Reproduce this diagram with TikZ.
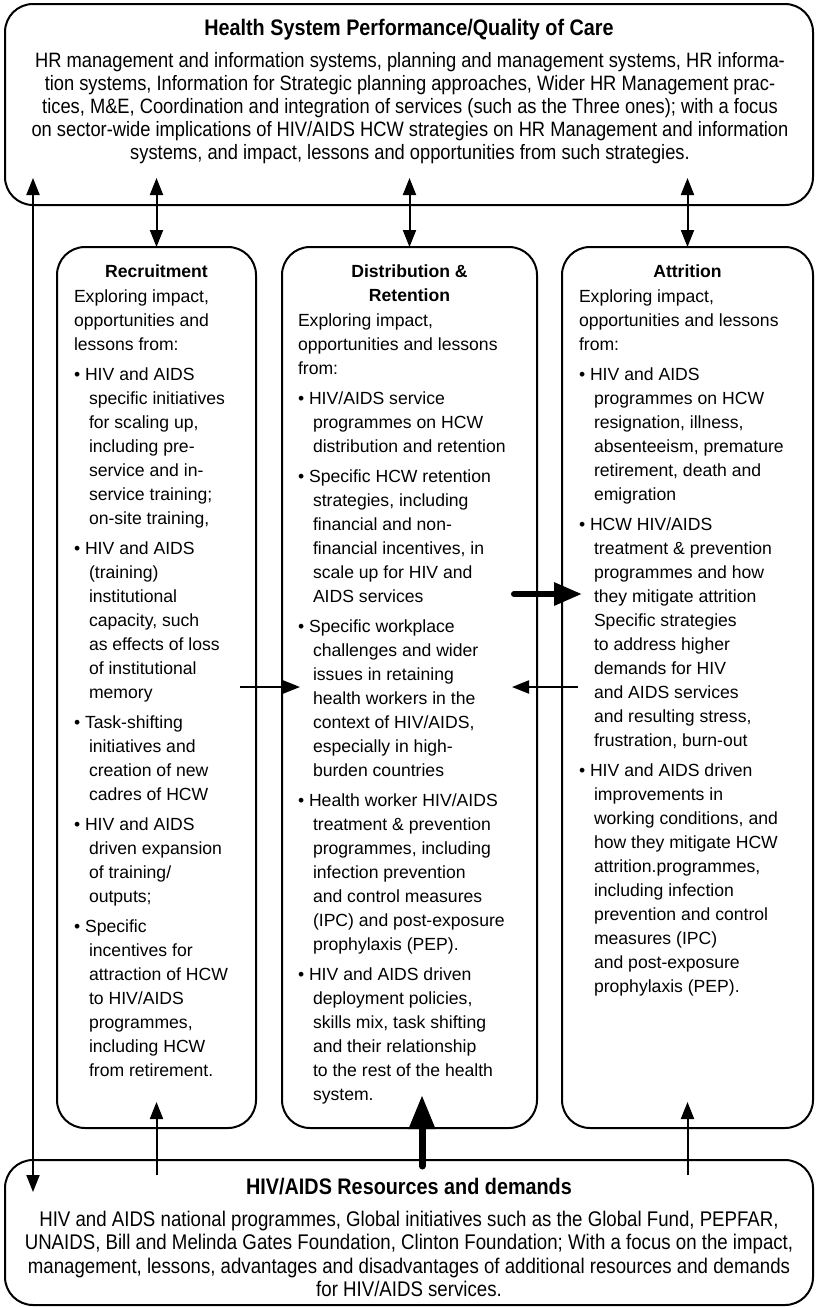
\documentclass[tikz,border=0pt]{standalone}
\usepackage{fontspec}
\setmainfont{Liberation Sans}
\newfontfamily\condfont[FakeStretch=0.88]{Liberation Sans}
\usetikzlibrary{arrows.meta}
\newcommand{\bitem}{\par\hangindent=15pt\hangafter=1\noindent•\ }
\newcommand{\colfont}{\fontsize{17.6}{24}\selectfont}
\newcommand{\coltext}[2]{\begin{minipage}[t]{#1}\colfont\raggedright\setlength{\parskip}{6pt}\setlength{\parindent}{0pt}#2\end{minipage}}
\tikzset{
  box/.style={draw, line width=2pt, rounded corners=28pt, inner sep=0pt, outer sep=0pt, anchor=north west},
  txt/.style={inner sep=0pt, outer sep=0pt},
  conn/.style={line width=2pt, -{Triangle[length=17pt,width=13pt]}},
  dconn/.style={line width=2pt, {Triangle[length=17pt,width=13pt]}-{Triangle[length=17pt,width=13pt]}},
  thickconn/.style={line width=7pt, line cap=round, -{Triangle[length=34pt,width=25pt]}},
  head/.style={txt, font=\fontsize{17.6}{24}\selectfont\bfseries, anchor=base},
}
\begin{document}
\begin{tikzpicture}[x=1pt,y=-1pt]
\useasboundingbox (0,0) rectangle (815,1307);
% boxes
\node[box, minimum width=808pt, minimum height=201pt] (top) at (5,4) {};
\node[box, minimum width=199pt, minimum height=881pt] (rec) at (57,247) {};
\node[box, minimum width=255pt, minimum height=881pt] (dist) at (282,247) {};
\node[box, minimum width=251pt, minimum height=881pt] (att) at (562,247) {};
\node[box, minimum width=808pt, minimum height=145pt] (res) at (5,1160) {};

% top texts
\node[txt, anchor=base, font=\condfont\fontsize{22.5}{23}\selectfont\bfseries] (toptitle) at (409,35) {Health System Performance/Quality of Care};
\node[txt, anchor=base] (topbody) at (410,67) {\begin{minipage}[t]{800pt}\condfont\fontsize{20.8}{23}\selectfont\centering
HR management and information systems, planning and management systems, HR informa-\\
tion systems, Information for Strategic planning approaches, Wider HR Management prac-\\
tices, M\&E, Coordination and integration of services (such as the Three ones); with a focus\\
on sector-wide implications of HIV/AIDS HCW strategies on HR Management and information\\
systems, and impact, lessons and opportunities from such strategies.\end{minipage}};

% bottom texts
\node[txt, anchor=base, font=\condfont\fontsize{22.5}{23}\selectfont\bfseries] (restitle) at (409,1194) {HIV/AIDS Resources and demands};
\node[txt, anchor=base] (resbody) at (409,1226) {\begin{minipage}[t]{800pt}\condfont\fontsize{21.2}{23.6}\selectfont\centering
HIV and AIDS national programmes, Global initiatives such as the Global Fund, PEPFAR,\\
UNAIDS, Bill and Melinda Gates Foundation, Clinton Foundation; With a focus on the impact,\\
management, lessons, advantages and disadvantages of additional resources and demands\\
for HIV/AIDS services.\end{minipage}};

% column headings
\node[head] (rechead) at (156.5,277) {Recruitment};
\node[txt, anchor=base] (disthead) at (409.5,277) {\begin{minipage}[t]{240pt}\fontsize{17.6}{24}\selectfont\bfseries\centering Distribution \&\\Retention\end{minipage}};
\node[head] (atthead) at (687.5,277) {Attrition};

% column texts
\node[txt, anchor=base west] (rectext) at (74,302) {\coltext{175pt}{%
Exploring impact,\newline opportunities and\newline lessons from:
\bitem HIV and AIDS\newline specific initiatives\newline for scaling up,\newline including pre-\newline service and in-\newline service training;\newline on-site training,
\bitem HIV and AIDS\newline (training)\newline institutional\newline capacity, such\newline as effects of loss\newline of institutional\newline memory
\bitem Task-shifting\newline initiatives and\newline creation of new\newline cadres of HCW
\bitem HIV and AIDS\newline driven expansion\newline of training/\newline outputs;
\bitem Specific\newline incentives for\newline attraction of HCW\newline to HIV/AIDS\newline programmes,\newline including HCW\newline from retirement.}};

\node[txt, anchor=base west] (disttext) at (298,326) {\coltext{235pt}{%
Exploring impact,\newline opportunities and lessons\newline from:
\bitem HIV/AIDS service\newline programmes on HCW\newline distribution and retention
\bitem Specific HCW retention\newline strategies, including\newline financial and non-\newline financial incentives, in\newline scale up for HIV and\newline AIDS services
\bitem Specific workplace\newline challenges and wider\newline issues in retaining\newline health workers in the\newline context of HIV/AIDS,\newline especially in high-\newline burden countries
\bitem Health worker HIV/AIDS\newline treatment \& prevention\newline programmes, including\newline infection prevention\newline and control measures\newline (IPC) and post-exposure\newline prophylaxis (PEP).
\bitem HIV and AIDS driven\newline deployment policies,\newline skills mix, task shifting\newline and their relationship\newline to the rest of the health\newline system.}};

\node[txt, anchor=base west] (atttext) at (579,302) {\coltext{230pt}{%
Exploring impact,\newline opportunities and lessons\newline from:
\bitem HIV and AIDS\newline programmes on HCW\newline resignation, illness,\newline absenteeism, premature\newline retirement, death and\newline emigration
\bitem HCW HIV/AIDS\newline treatment \& prevention\newline programmes and how\newline they mitigate attrition\newline Specific strategies\newline to address higher\newline demands for HIV\newline and AIDS services\newline and resulting stress,\newline frustration, burn-out
\bitem HIV and AIDS driven\newline improvements in\newline working conditions, and\newline how they mitigate HCW\newline attrition.programmes,\newline including infection\newline prevention and control\newline measures (IPC)\newline and post-exposure\newline prophylaxis (PEP).}};

% connector end points
\coordinate (lbot) at (33,1192);
\coordinate (ltop) at (33,178);
\coordinate (t1) at (156.5,178);
\coordinate (t2) at (409.5,178);
\coordinate (t3) at (687.5,178);
\coordinate (b1s) at (156.5,1175);
\coordinate (b1e) at (156.5,1102);
\coordinate (b2s) at (422,1166);
\coordinate (b2e) at (422,1095);
\coordinate (b3s) at (687.5,1175);
\coordinate (b3e) at (687.5,1102);
\coordinate (h1s) at (240,687);
\coordinate (h1e) at (300,687);
\coordinate (h2s) at (578,687);
\coordinate (h2e) at (512,687);
\coordinate (h3s) at (514,594);
\coordinate (h3e) at (582,594);

% connectors
\draw[dconn] (lbot) -- (ltop);
\draw[dconn] (t1) -- (rec.north);
\draw[dconn] (t2) -- (dist.north);
\draw[dconn] (t3) -- (att.north);
\draw[conn] (b1s) -- (b1e);
\draw[conn] (b3s) -- (b3e);
\draw[thickconn] (b2s) -- (b2e);
\draw[conn] (h1s) -- (h1e);
\draw[conn] (h2s) -- (h2e);
\draw[thickconn, line width=6pt, -{Triangle[length=28pt,width=22pt]}] (h3s) -- (h3e);
\end{tikzpicture}
\end{document}
